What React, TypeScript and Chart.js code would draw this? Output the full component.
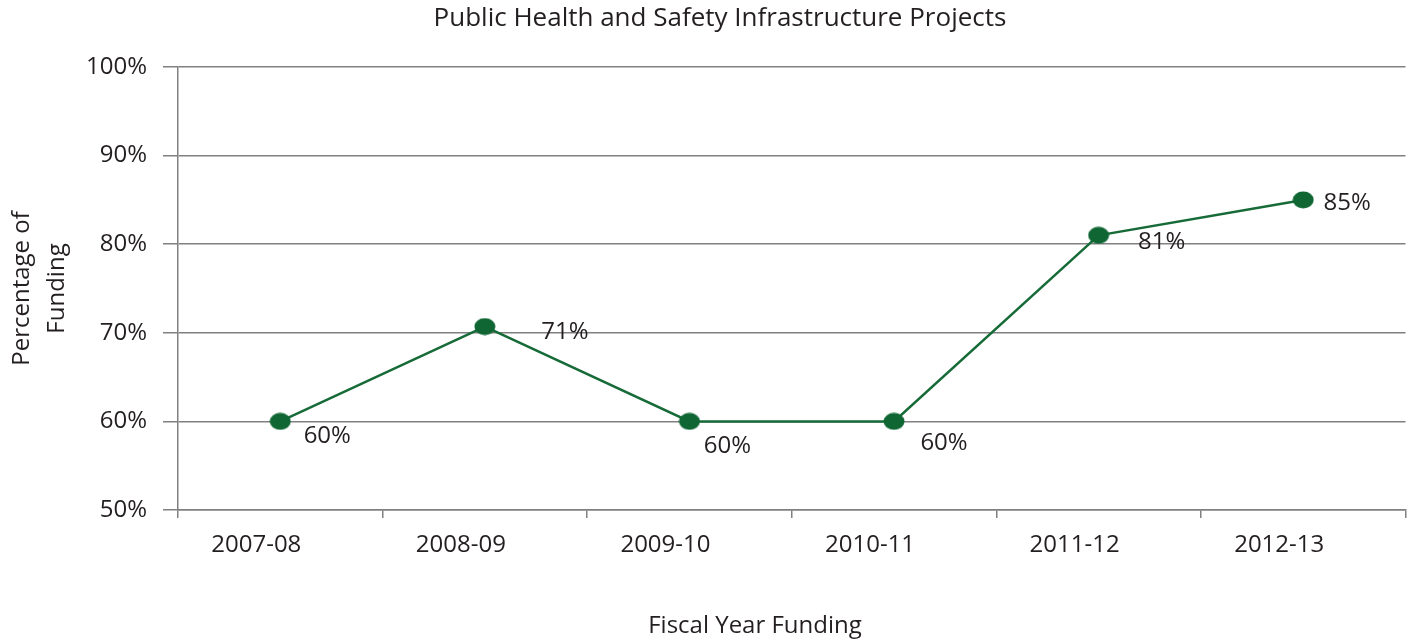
import React, { useEffect, useRef } from "react";
import { Chart, registerables } from "chart.js";

Chart.register(...registerables);

const categories = ["2007-08", "2008-09", "2009-10", "2010-11", "2011-12", "2012-13"];
const fundingPct = [60, 70.7, 60, 60, 81, 85];
const valueLabels = ["60%", "71%", "60%", "60%", "81%", "85%"];
const labelOffsets: [number, number][] = [[47, 15], [80, 6], [38, 25], [50, 22], [63, 7], [44, 3]];
const yTicks = [50, 60, 70, 80, 90, 100];

const chartTitle = "Public Health and Safety Infrastructure Projects";
const xTitle = "Fiscal Year Funding";
const yTitle = ["Percentage of", "Funding"];

const FONT = "'Open Sans', sans-serif";
const TEXT = "#231f20";
const GRID = "#808080";
const GREEN = "#176b38";
const DOT = "#0f6633";

function makeDot(): HTMLCanvasElement {
  const c = document.createElement("canvas");
  c.width = 22;
  c.height = 18;
  const g = c.getContext("2d")!;
  g.fillStyle = DOT;
  g.beginPath();
  g.ellipse(11, 9, 10.5, 8.5, 0, 0, Math.PI * 2);
  g.fill();
  return c;
}

export default function App() {
  const ref = useRef<HTMLCanvasElement>(null);
  useEffect(() => {
    document.body.style.margin = "0";
    const dot = makeDot();
    const textPlugin = {
      id: "texts",
      afterDatasetsDraw(chart: any) {
        const ctx = chart.ctx;
        const meta = chart.getDatasetMeta(0);
        ctx.save();
        ctx.fillStyle = TEXT;
        ctx.font = `24px ${FONT}`;
        ctx.textAlign = "center";
        ctx.textBaseline = "middle";
        meta.data.forEach((pt: any, i: number) => {
          const [dx, dy] = labelOffsets[i];
          ctx.fillText(valueLabels[i], pt.x + dx, pt.y + dy);
        });
        ctx.restore();
      },
      afterDraw(chart: any) {
        const ctx = chart.ctx;
        ctx.save();
        ctx.fillStyle = TEXT;
        ctx.textAlign = "center";
        ctx.textBaseline = "middle";
        ctx.font = `26px ${FONT}`;
        ctx.fillText(chartTitle, 720, 19);
        ctx.font = `24px ${FONT}`;
        ctx.fillText(xTitle, 755, 626);
        const area = chart.chartArea;
        ctx.translate(39, (area.top + area.bottom) / 2);
        ctx.rotate(-Math.PI / 2);
        ctx.fillText(yTitle[0], 0, -17);
        ctx.fillText(yTitle[1], 0, 18);
        ctx.restore();
      },
    };
    const chart = new Chart(ref.current!, {
      type: "line",
      data: {
        labels: categories,
        datasets: [
          {
            data: fundingPct,
            borderColor: GREEN,
            borderWidth: 2.5,
            pointStyle: dot as any,
            pointRadius: 10,
            tension: 0,
          },
        ],
      },
      options: {
        animation: false,
        responsive: false,
        layout: { padding: { top: 67, right: 10, left: 0, bottom: 0 } },
        plugins: { legend: { display: false }, tooltip: { enabled: false }, title: { display: false } },
        scales: {
          x: {
            offset: true,
            grid: {
              offset: true,
              drawOnChartArea: false,
              drawTicks: true,
              tickLength: 8,
              color: GRID,
              lineWidth: 1.5,
            },
            border: { display: true, color: GRID, width: 1.5 },
            ticks: { color: TEXT, font: { family: FONT, size: 24 }, padding: 13, maxRotation: 0, labelOffset: -24 },
            afterFit(scale: any) {
              scale.height = 132;
            },
          },
          y: {
            min: 50,
            max: 100,
            afterBuildTicks(scale: any) {
              scale.ticks = yTicks.map((v) => ({ value: v }));
            },
            grid: { color: GRID, lineWidth: 1.5, tickLength: 15 },
            border: { display: true, color: GRID, width: 1.5 },
            ticks: {
              color: TEXT,
              font: { family: FONT, size: 24 },
              padding: 16,
              callback: (v: any) => `${v}%`,
            },
            afterFit(scale: any) {
              scale.width = 178;
            },
          },
        },
      },
      plugins: [textPlugin],
    });
    return () => chart.destroy();
  }, []);
  return (
    <div style={{ width: 1418, height: 642 }}>
      <canvas ref={ref} width={1418} height={642} style={{ display: "block" }} />
    </div>
  );
}
